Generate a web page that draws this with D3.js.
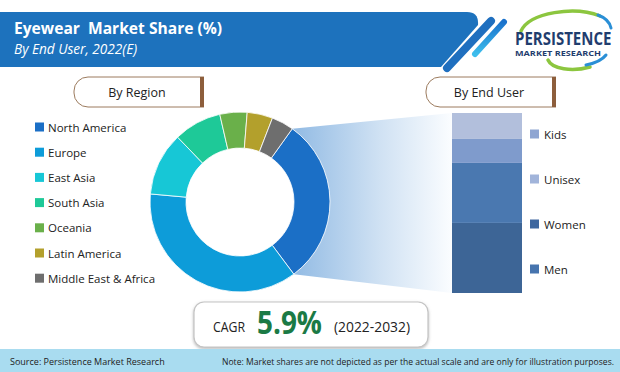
<!DOCTYPE html>
<html><head><meta charset="utf-8">
<script src="https://cdn.jsdelivr.net/npm/d3@7"></script>
<style>body{margin:0;background:#fff}svg{display:block}text{font-family:"Open Sans",sans-serif}</style>
</head><body>
<script>
// ---- data ----
const regions = ["North America","Europe","East Asia","South Asia","Oceania","Latin America","Middle East & Africa"];
const regionShare = [30.0,36.7,11.4,8.6,4.9,4.6,4.0];
const regionColors = ["#1b6fc6","#0d9cd9","#17c7d6","#1ec998","#6ab04a","#b3a02c","#6e6e6e"];
const endUsers = ["Men","Women","Unisex","Kids"];            // bottom to top
const endUserShare = [38.9,33.3,13.3,14.4];
const endUserColors = ["#3d6596","#4a78b0","#7f9bcc","#b2bfdc"];
const endUserLegend = ["Kids","Unisex","Women","Men"];
const endUserLegendColors = ["#8ea5d2","#a1b4da","#3e679f","#4674ae"];
const titleText = "Eyewear  Market Share (%)";
const subtitleText = "By End User, 2022(E)";
const cagrLabel = "CAGR", cagrValue = "5.9%", cagrPeriod = "(2022-2032)";
const sourceText = "Source: Persistence Market Research";
const noteText = "Note: Market shares are not depicted as per the actual scale and are only for illustration purposes.";

const W = 620, H = 372;
const svg = d3.select("body").append("svg").attr("width", W).attr("height", H);
const defs = svg.append("defs");

// ---- header ----
svg.append("path")
  .attr("d", "M0,12 H467 Q479,12 478,25 L441,67 H0 Z")
  .attr("fill", "#1d72bd");
const sg = defs.append("linearGradient").attr("id","stripe2").attr("x1","0").attr("y1","0").attr("x2","0").attr("y2","1");
sg.append("stop").attr("offset","0").attr("stop-color","#1a72cc");
sg.append("stop").attr("offset","1").attr("stop-color","#3dbdec");
svg.append("line").attr("x1",491).attr("y1",21).attr("x2",447).attr("y2",68)
  .attr("stroke","#1f6fbf").attr("stroke-width",8).attr("stroke-linecap","round");
svg.append("line").attr("x1",504).attr("y1",22).attr("x2",475).attr("y2",54)
  .attr("stroke","url(#stripe2)").attr("stroke-width",6).attr("stroke-linecap","round");
svg.append("text").attr("x",14).attr("y",34).text(titleText)
  .attr("fill","#fff").attr("font-weight","bold").attr("font-size",15.6)
  .style("white-space","pre");
svg.append("text").attr("x",14).attr("y",54).text(subtitleText)
  .attr("fill","#fff").attr("font-style","italic").attr("font-size",13.6);

// ---- logo ----
const logo = svg.append("g");
logo.append("path").attr("d","M521,31 C530,12 575,6 600,16").attr("fill","none").attr("stroke","#8cc63f").attr("stroke-width",3.5).attr("stroke-linecap","round");
logo.append("path").attr("d","M598,15 C606,18 610,23 611,28").attr("fill","none").attr("stroke","#2a8fd6").attr("stroke-width",3).attr("stroke-linecap","round");
logo.append("path").attr("d","M548,60 C552,69 572,72 590,67").attr("fill","none").attr("stroke","#8cc63f").attr("stroke-width",3.5).attr("stroke-linecap","round");
logo.append("path").attr("d","M586,65 C596,63 603,59 606,55").attr("fill","none").attr("stroke","#2a8fd6").attr("stroke-width",3).attr("stroke-linecap","round");
logo.append("g").attr("transform","translate(515,44.5) scale(1,1.2)")
  .append("text").attr("x",0).attr("y",0).text("PERSISTENCE")
  .attr("font-family","'Liberation Sans Narrow','DejaVu Sans Condensed',sans-serif")
  .attr("font-size",15).attr("font-weight","bold").attr("fill","#1f3d6e");
logo.append("text").attr("x",515).attr("y",56).text("MARKET RESEARCH")
  .attr("font-family","'DejaVu Sans',sans-serif").attr("font-weight","bold")
  .attr("font-size",6.2).attr("fill","#1f3d6e").attr("textLength",86).attr("lengthAdjust","spacingAndGlyphs");

// ---- section pills ----
function pill(x0, x1, label) {
  const y0 = 77, y1 = 107, r = 14;
  svg.append("path")
    .attr("d", `M${x1},${y0} H${x0+r} A${r},${r} 0 0 0 ${x0},${y0+r} V${y1-r} A${r},${r} 0 0 0 ${x0+r},${y1} H${x1}`)
    .attr("fill","#fff").attr("stroke","#9c7b5e").attr("stroke-width",1);
  svg.append("rect").attr("x",x1-4).attr("y",y0).attr("width",4).attr("height",y1-y0).attr("fill","#8d5e3c");
  svg.append("text").attr("x",(x0+x1-4)/2).attr("y",(y0+y1)/2).text(label)
    .attr("text-anchor","middle").attr("dominant-baseline","central")
    .attr("font-size",12.5).attr("fill","#222");
}
pill(74, 204, "By Region");
pill(426, 556, "By End User");

// ---- donut ----
const cx = 240, cy = 202, R = 90, r0 = 54;
const a0 = 35.5 * Math.PI / 180;
const pie = d3.pie().sort(null).value(d => d).startAngle(a0).endAngle(a0 + 2*Math.PI);
const arcs = pie(regionShare);
const arc = d3.arc().innerRadius(r0).outerRadius(R);

// bar scales
const barX = 452, barW = 70;
const y = d3.scaleLinear().domain([0, d3.sum(endUserShare)]).range([293, 113]);

// gradient connector from North America slice to bar
const gg = defs.append("linearGradient").attr("id","conn").attr("gradientUnits","userSpaceOnUse")
  .attr("x1", cx + R*0.55).attr("y1",0).attr("x2",barX).attr("y2",0);
gg.append("stop").attr("offset","0").attr("stop-color","#8fb9e3");
gg.append("stop").attr("offset","0.55").attr("stop-color","#cfe1f3");
gg.append("stop").attr("offset","1").attr("stop-color","#fbfdff");
const na = arcs[0];
const pt = a => [cx + R*Math.sin(a), cy - R*Math.cos(a)];
const p0 = pt(na.startAngle), p1 = pt(na.endAngle);
svg.append("path")
  .attr("d", `M${p0[0]},${p0[1]} L${barX},${y(d3.sum(endUserShare))} L${barX},${y(0)} L${p1[0]},${p1[1]} A${R},${R} 0 0 0 ${p0[0]},${p0[1]} Z`)
  .attr("fill","url(#conn)");

svg.append("g").attr("transform",`translate(${cx},${cy})`)
  .selectAll("path").data(arcs).join("path")
  .attr("d", arc).attr("fill", (d,i) => regionColors[i])
  .attr("stroke","#fff").attr("stroke-width",0.8);

// ---- region legend ----
const lg = svg.append("g");
regions.forEach((name, i) => {
  const yy = 127 + i * 25.2;
  lg.append("rect").attr("x",35).attr("y",yy-4.5).attr("width",9).attr("height",9).attr("fill",regionColors[i]);
  lg.append("text").attr("x",48).attr("y",yy).attr("dominant-baseline","central")
    .attr("font-size",11.5).attr("fill","#222").text(name);
});

// ---- stacked bar ----
let acc = 0;
const stacks = endUserShare.map(v => { const s = {y0: acc, y1: acc + v}; acc += v; return s; });
svg.append("g").selectAll("rect").data(stacks).join("rect")
  .attr("x", barX).attr("width", barW)
  .attr("y", d => y(d.y1)).attr("height", d => y(d.y0) - y(d.y1))
  .attr("fill", (d,i) => endUserColors[i]);

// ---- end-user legend ----
endUserLegend.forEach((name, i) => {
  const yy = 134 + i * 45;
  svg.append("rect").attr("x",530).attr("y",yy-4.5).attr("width",9).attr("height",9).attr("fill",endUserLegendColors[i]);
  svg.append("text").attr("x",544).attr("y",yy).attr("dominant-baseline","central")
    .attr("font-size",11.5).attr("fill","#222").text(name);
});

// ---- CAGR box ----
const sh = defs.append("filter").attr("id","sh").attr("x","-10%").attr("y","-20%").attr("width","120%").attr("height","150%");
sh.append("feDropShadow").attr("dx",0).attr("dy",1.5).attr("stdDeviation",1.5).attr("flood-color","#888").attr("flood-opacity",0.6);
svg.append("rect").attr("x",194).attr("y",302).attr("width",234).attr("height",45).attr("rx",10)
  .attr("fill","#fff").attr("stroke","#c4c4c4").attr("stroke-width",1.2).attr("filter","url(#sh)");
svg.append("text").attr("x",213).attr("y",332).text(cagrLabel).attr("font-size",14).attr("fill","#222")
  .attr("textLength",32).attr("lengthAdjust","spacingAndGlyphs");
svg.append("text").attr("x",257).attr("y",334).text(cagrValue)
  .attr("font-family","'Liberation Sans Narrow','DejaVu Sans Condensed',sans-serif")
  .attr("font-weight","bold").attr("font-size",32).attr("fill","#1b7a45")
  .attr("textLength",65).attr("lengthAdjust","spacingAndGlyphs");
svg.append("text").attr("x",334).attr("y",332).text(cagrPeriod).attr("font-size",14).attr("fill","#222")
  .attr("textLength",76).attr("lengthAdjust","spacingAndGlyphs");

// ---- footer ----
svg.append("rect").attr("x",0).attr("y",349).attr("width",W).attr("height",H-349).attr("fill","#a9dcf0");
svg.append("text").attr("x",10).attr("y",361).attr("dominant-baseline","central").text(sourceText)
  .attr("font-size",9).attr("fill","#222");
svg.append("text").attr("x",222).attr("y",361).attr("dominant-baseline","central").text(noteText)
  .attr("font-size",8.3).attr("fill","#222").attr("textLength",392).attr("lengthAdjust","spacingAndGlyphs");
</script>
</body></html>
